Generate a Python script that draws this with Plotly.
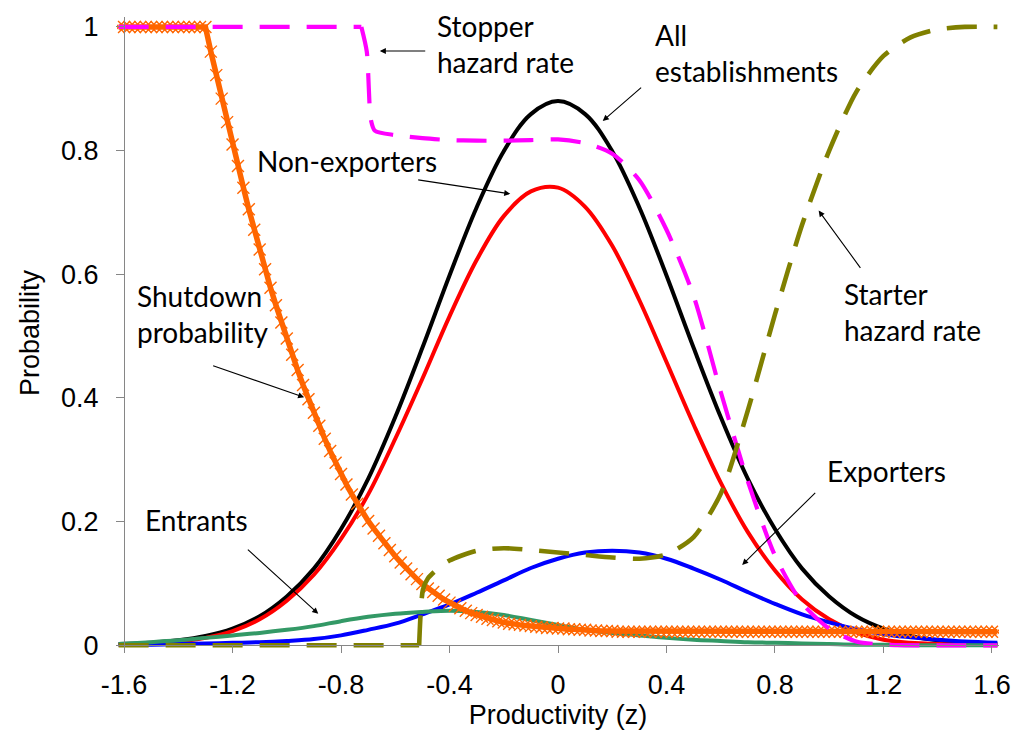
import numpy as np
import plotly.graph_objects as go

# ---- data -------------------------------------------------------------
# productivity grid for the smooth distribution curves
z = [-1.62, -1.5, -1.4, -1.3, -1.2, -1.1, -1.0, -0.9, -0.8, -0.7, -0.6,
     -0.5, -0.4, -0.3, -0.2, -0.1, 0.0, 0.1, 0.2, 0.3, 0.4, 0.5, 0.6,
     0.7, 0.8, 0.9, 1.0, 1.1, 1.2, 1.3, 1.4, 1.5, 1.62]

all_establishments = [0.002, 0.004, 0.008, 0.015, 0.027, 0.047, 0.079, 0.124,
                      0.188, 0.269, 0.369, 0.481, 0.598, 0.708, 0.799, 0.859,
                      0.880, 0.859, 0.799, 0.708, 0.598, 0.481, 0.369, 0.269,
                      0.188, 0.124, 0.079, 0.047, 0.027, 0.015, 0.008, 0.004,
                      0.002]

non_exporters = [0.001, 0.003, 0.006, 0.012, 0.023, 0.042, 0.072, 0.114,
                 0.172, 0.244, 0.334, 0.431, 0.532, 0.623, 0.694, 0.734,
                 0.740, 0.709, 0.646, 0.558, 0.458, 0.357, 0.263, 0.183,
                 0.121, 0.074, 0.042, 0.021, 0.009, 0.004, 0.002, 0.001,
                 0.000]

exporters = [0.001, 0.001, 0.002, 0.003, 0.004, 0.005, 0.007, 0.010,
             0.016, 0.025, 0.035, 0.050, 0.066, 0.085, 0.105, 0.125,
             0.140, 0.150, 0.153, 0.150, 0.140, 0.124, 0.106, 0.086,
             0.067, 0.050, 0.037, 0.026, 0.018, 0.013, 0.009, 0.006,
             0.004]

entrants = [0.002, 0.005, 0.008, 0.012, 0.016, 0.020, 0.025, 0.031,
            0.039, 0.046, 0.051, 0.054, 0.056, 0.054, 0.049, 0.041,
            0.033, 0.025, 0.020, 0.016, 0.012, 0.009, 0.007, 0.005,
            0.004, 0.003, 0.002, 0.001, 0.001, 0.000, 0.000, 0.000,
            0.000]

# stopper hazard rate (exit from exporting); flat at 1 up to the threshold
stopper_z = [-1.62, -0.725, -0.705, -0.69, -0.675, -0.6, -0.5, -0.4, -0.3,
             -0.2, -0.1, 0.0, 0.1, 0.2, 0.3, 0.4, 0.5, 0.6, 0.7, 0.8, 0.9,
             1.0, 1.1, 1.2, 1.62]
stopper = [1.0, 1.0, 0.96, 0.85, 0.832, 0.825, 0.820, 0.817, 0.816,
           0.816, 0.817, 0.818, 0.812, 0.795, 0.752, 0.672, 0.565, 0.410,
           0.265, 0.145, 0.068, 0.027, 0.006, 0.001, 0.0]

# starter hazard rate (entry into exporting); zero below the threshold
starter_z = [-1.62, -0.512, -0.498, -0.48, -0.44, -0.4, -0.3, -0.2, -0.1,
             0.0, 0.1, 0.2, 0.3, 0.4, 0.5, 0.6, 0.7, 0.8, 0.9, 1.0, 1.1,
             1.2, 1.3, 1.4, 1.5, 1.62]
starter = [0.0, 0.0, 0.09, 0.108, 0.125, 0.137, 0.153, 0.157, 0.154,
           0.150, 0.146, 0.142, 0.140, 0.147, 0.175, 0.245, 0.380, 0.535,
           0.680, 0.800, 0.895, 0.953, 0.983, 0.996, 1.0, 1.0]

# shutdown probability, evaluated on the fine model grid (step 0.02)
shutdown_z = np.round(np.linspace(-1.62, 1.62, 163), 2)
shutdown = [
    1.0, 1.0, 1.0, 1.0, 1.0, 1.0, 1.0, 1.0,
    1.0, 1.0, 1.0, 1.0, 1.0, 1.0, 1.0, 1.0,
    1.000, 0.960, 0.922, 0.884, 0.846, 0.810, 0.775, 0.740,
    0.705, 0.672, 0.640, 0.608, 0.578, 0.550, 0.522, 0.496,
    0.470, 0.445, 0.421, 0.398, 0.376, 0.355, 0.334, 0.314,
    0.295, 0.277, 0.260, 0.244, 0.229, 0.214, 0.201, 0.189,
    0.177, 0.165, 0.154, 0.144, 0.134, 0.124, 0.115, 0.107,
    0.099, 0.092, 0.086, 0.080, 0.074, 0.069, 0.064, 0.060,
    0.056, 0.052, 0.049, 0.046, 0.043, 0.041, 0.039, 0.037,
    0.035, 0.034, 0.033, 0.032, 0.031, 0.030, 0.029, 0.028,
    0.028, 0.027, 0.027, 0.026, 0.026, 0.025, 0.025, 0.024,
    0.024, 0.023, 0.023, 0.023,
    0.022, 0.022, 0.022, 0.022, 0.022, 0.022, 0.022, 0.022,
    0.022, 0.022, 0.022, 0.022, 0.022, 0.022, 0.022, 0.022,
    0.022, 0.022, 0.022, 0.022, 0.022, 0.022, 0.022, 0.022,
    0.022, 0.022, 0.022, 0.022, 0.022, 0.022, 0.022, 0.022,
    0.022, 0.022, 0.022, 0.022, 0.022, 0.022, 0.022, 0.022,
    0.022, 0.022, 0.022, 0.022, 0.022, 0.022, 0.022, 0.022,
    0.022, 0.022, 0.022, 0.022, 0.022, 0.022, 0.022, 0.022,
    0.022, 0.022, 0.022, 0.022, 0.022, 0.022, 0.022, 0.022,
    0.022, 0.022, 0.022, 0.022, 0.022, 0.022, 0.022,
]

x_ticks = [-1.6, -1.2, -0.8, -0.4, 0.0, 0.4, 0.8, 1.2, 1.6]
x_ticktext = ["-1.6", "-1.2", "-0.8", "-0.4", "0", "0.4", "0.8", "1.2", "1.6"]
y_ticks = [0.0, 0.2, 0.4, 0.6, 0.8, 1.0]
y_ticktext = ["0", "0.2", "0.4", "0.6", "0.8", "1"]

# ---- styling ----------------------------------------------------------
X_RANGE = [-1.626, 1.626]
Y_RANGE = [-0.006, 1.016]
AXIS_GREY = "#868686"
TICK_FONT = dict(family="Liberation Sans, Arial, sans-serif", size=27, color="black")
NOTE_FONT = dict(family="Lato, Carlito, Calibri, sans-serif", size=28, color="black")
DASH = "30px,17px"
MAGENTA = "#FF00FF"
OLIVE = "#808000"

fig = go.Figure()

fig.add_trace(go.Scatter(x=z, y=all_establishments, mode="lines", name="All establishments",
                         line=dict(color="#000000", width=4, shape="spline")))
fig.add_trace(go.Scatter(x=z, y=non_exporters, mode="lines", name="Non-exporters",
                         line=dict(color="#FF0000", width=4, shape="spline")))
fig.add_trace(go.Scatter(x=z, y=exporters, mode="lines", name="Exporters",
                         line=dict(color="#0000FF", width=4, shape="spline")))
fig.add_trace(go.Scatter(x=z, y=entrants, mode="lines", name="Entrants",
                         line=dict(color="#339966", width=4, shape="spline")))
fig.add_trace(go.Scatter(x=shutdown_z, y=shutdown, mode="lines+markers",
                         name="Shutdown probability",
                         line=dict(color="#FF6600", width=5.5),
                         marker=dict(symbol="x-thin", size=12, color="#FF6600",
                                     line=dict(color="#FF6600", width=1.4))))

# hazard rates: the flat plateau is drawn straight, the rest smoothed
fig.add_trace(go.Scatter(x=stopper_z[:2], y=stopper[:2], mode="lines",
                         name="Stopper hazard rate", legendgroup="stop",
                         line=dict(color=MAGENTA, width=4.2, dash=DASH)))
fig.add_trace(go.Scatter(x=stopper_z[1:], y=stopper[1:], mode="lines",
                         legendgroup="stop", showlegend=False,
                         line=dict(color=MAGENTA, width=4.2, dash=DASH,
                                   shape="spline", smoothing=0.7)))
fig.add_trace(go.Scatter(x=starter_z[:2], y=starter[:2], mode="lines",
                         name="Starter hazard rate", legendgroup="start",
                         line=dict(color=OLIVE, width=4.6, dash=DASH)))
fig.add_trace(go.Scatter(x=starter_z[1:], y=starter[1:], mode="lines",
                         legendgroup="start", showlegend=False,
                         line=dict(color=OLIVE, width=4.6, dash=DASH,
                                   shape="spline", smoothing=0.7)))

# ---- callouts -------------------------------------------------------
notes = [
    # text, x, y
    ("Stopper<br>hazard rate", -0.455, 0.972),
    ("All<br>establishments", 0.350, 0.958),
    ("Non-exporters", -1.119, 0.783),
    ("Shutdown<br>probability", -1.560, 0.536),
    ("Entrants", -1.530, 0.203),
    ("Starter<br>hazard rate", 1.046, 0.539),
    ("Exporters", 0.983, 0.282),
]
annotations = [dict(text=t, x=x, y=y, xref="x", yref="y", showarrow=False,
                    xanchor="left", yanchor="middle", align="left", font=NOTE_FONT)
               for t, x, y in notes]

# arrows: head (x, y) and tail (ax, ay)
arrows = [
    (-0.657, 0.961, -0.484, 0.961),
    (0.165, 0.848, 0.312, 0.904),
    (-0.176, 0.730, -0.521, 0.753),
    (-0.936, 0.401, -1.277, 0.453),
    (-0.884, 0.051, -1.149, 0.157),
    (0.961, 0.703, 1.119, 0.608),
    (0.679, 0.130, 0.954, 0.249),
]
for x, y, ax, ay in arrows:
    annotations.append(dict(x=x, y=y, ax=ax, ay=ay, xref="x", yref="y",
                            axref="x", ayref="y", text="", showarrow=True,
                            arrowhead=2, arrowsize=1.1, arrowwidth=1.1,
                            arrowcolor="black", standoff=0))

fig.update_layout(
    width=1023, height=740,
    margin=dict(l=117, r=20, t=12, b=91),
    paper_bgcolor="white", plot_bgcolor="white",
    showlegend=False,
    annotations=annotations,
    xaxis=dict(range=X_RANGE, tickvals=x_ticks, ticktext=x_ticktext,
               showgrid=False, zeroline=False, showline=True,
               linecolor=AXIS_GREY, linewidth=1,
               ticks="outside", ticklen=7, tickcolor=AXIS_GREY, tickwidth=1,
               tickfont=TICK_FONT, anchor="free", ticklabelstandoff=8,
               position=(0 - Y_RANGE[0]) / (Y_RANGE[1] - Y_RANGE[0]),
               title=dict(text="Productivity (z)", font=TICK_FONT, standoff=0)),
    yaxis=dict(range=Y_RANGE, tickvals=y_ticks, ticktext=y_ticktext,
               showgrid=False, zeroline=False, showline=True,
               linecolor=AXIS_GREY, linewidth=1,
               ticks="outside", ticklen=8, tickcolor=AXIS_GREY, tickwidth=1,
               tickfont=TICK_FONT, anchor="free",
               position=(-1.6 - X_RANGE[0]) / (X_RANGE[1] - X_RANGE[0]),
               ticklabelstandoff=12,
               title=dict(text="Probability", font=TICK_FONT, standoff=12)),
)

fig.write_html("out.html")
